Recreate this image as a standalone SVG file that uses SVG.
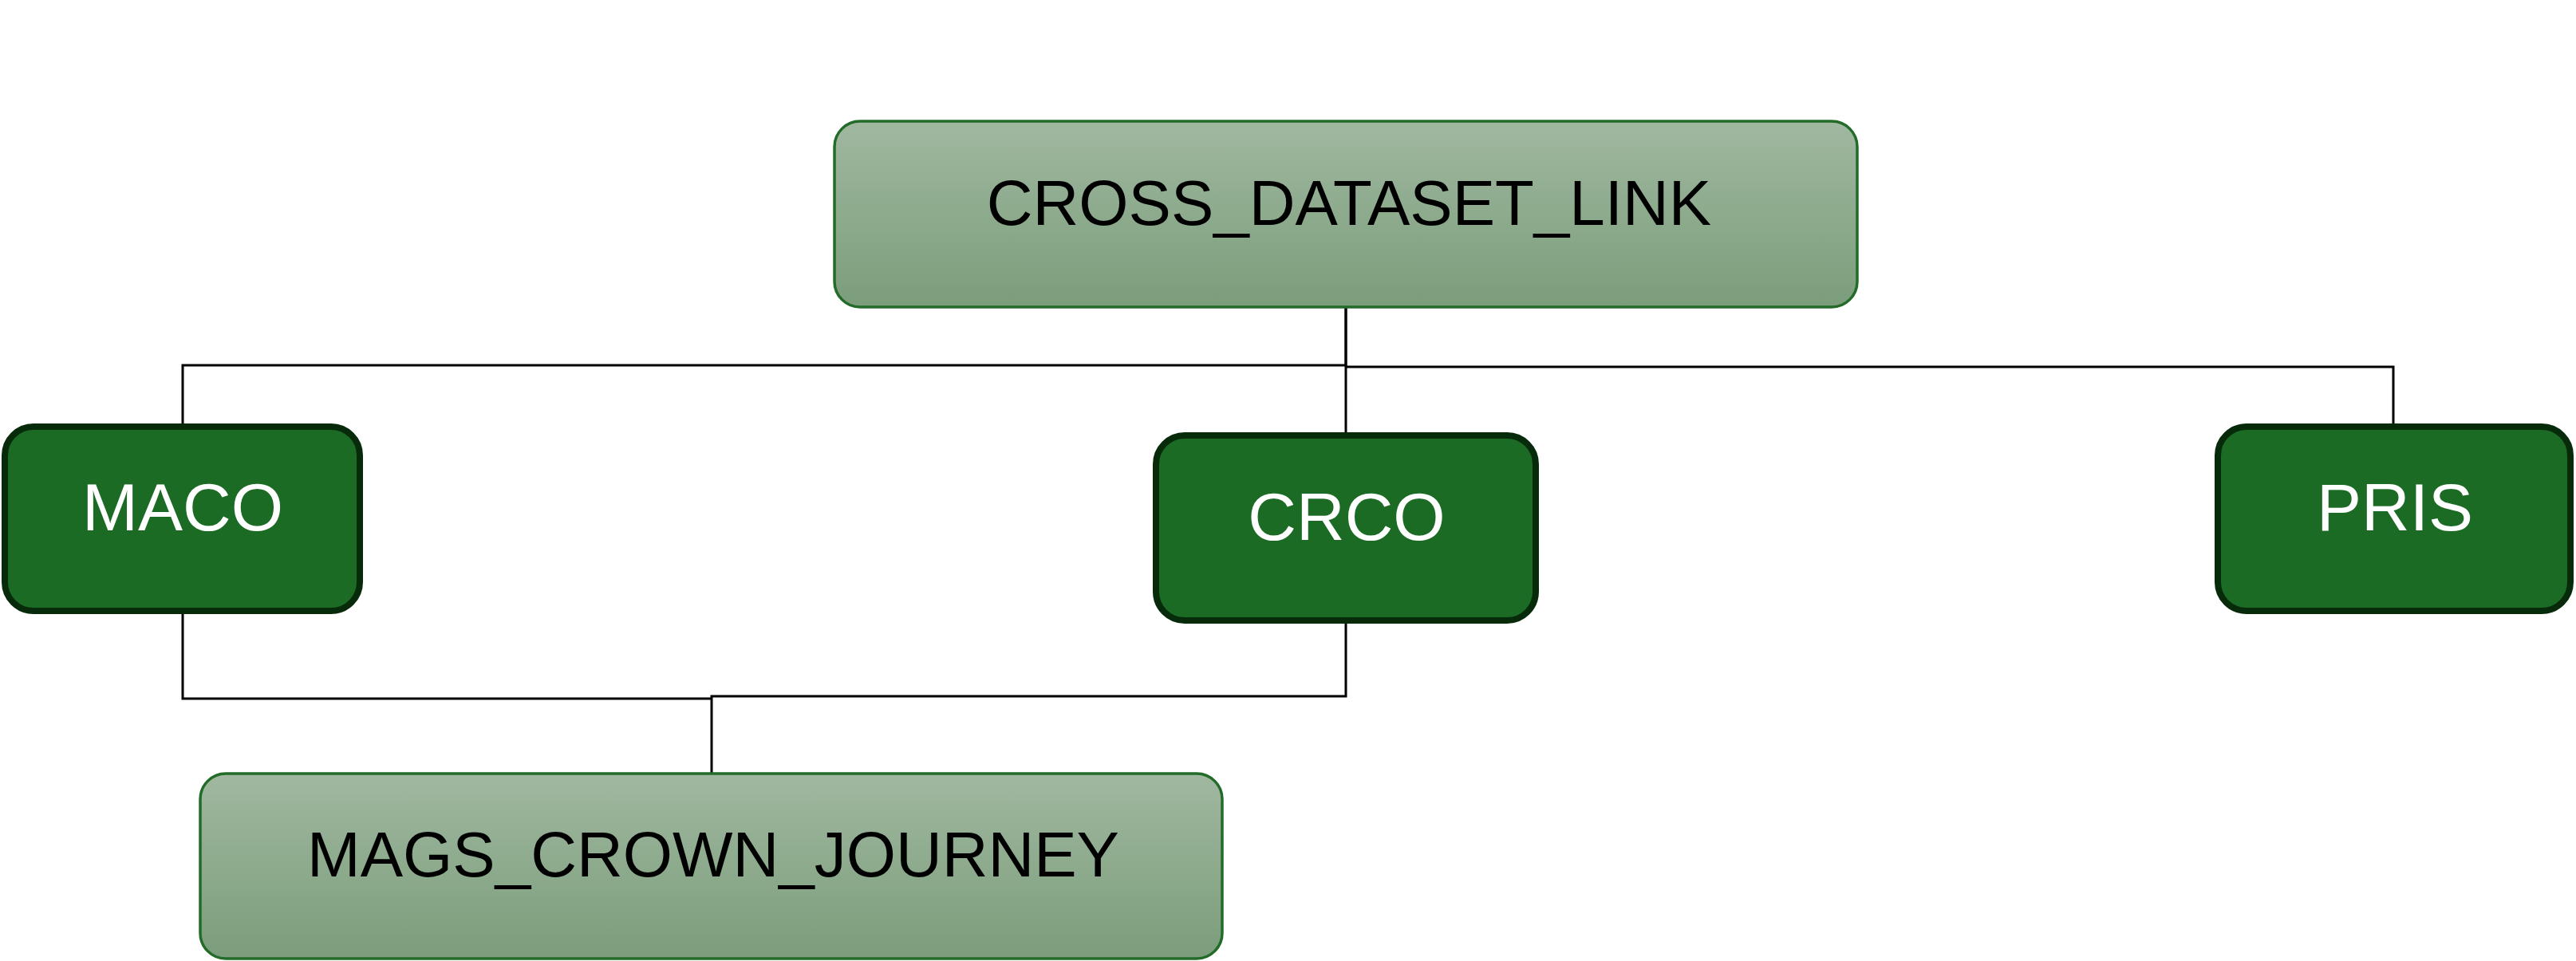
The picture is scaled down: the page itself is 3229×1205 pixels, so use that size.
<svg xmlns="http://www.w3.org/2000/svg" width="3229" height="1205" viewBox="0 0 3229 1205">
<defs>
<linearGradient id="lg" x1="0" y1="0" x2="0" y2="1">
<stop offset="0" stop-color="#a0b8a0"/>
<stop offset="1" stop-color="#7b9d7b"/>
</linearGradient>
<style>
.light{fill:url(#lg);stroke:#226b29;stroke-width:3.5}
.dark{fill:#1b6b25;stroke:#072a0b;stroke-width:8}
.lt{font-family:"Liberation Sans",Arial,sans-serif;font-size:80px;fill:#000;text-anchor:middle}
.dt{font-family:"Liberation Sans",Arial,sans-serif;font-size:84px;fill:#fff;text-anchor:middle}
.edge{fill:none;stroke:#000;stroke-width:3}
</style>
</defs>
<rect width="3229" height="1205" fill="#fff"/>
<g id="connectors">
<path class="edge" d="M1687,385 V458 H229 V531"/>
<path class="edge" d="M1687,385 V542"/>
<path class="edge" d="M1687,460 H3000 V531"/>
<path class="edge" d="M229,770 V876 H892"/>
<path class="edge" d="M1687,782 V873 H892 V985"/>
</g>
<g id="node-cross">
<rect class="light" x="1046" y="152" width="1282" height="233" rx="32"/>
<text class="lt" x="1691" y="282">CROSS_DATASET_LINK</text>
</g>
<g id="node-maco">
<rect class="dark" x="6" y="535" width="445" height="231" rx="36"/>
<text class="dt" x="229" y="665">MACO</text>
</g>
<g id="node-crco">
<rect class="dark" x="1449" y="546" width="476" height="232" rx="36"/>
<text class="dt" x="1688" y="677">CRCO</text>
</g>
<g id="node-pris">
<rect class="dark" x="2780" y="535" width="442" height="231" rx="36"/>
<text class="dt" x="3002" y="665">PRIS</text>
</g>
<g id="node-mags">
<rect class="light" x="251" y="970" width="1281" height="232" rx="32"/>
<text class="lt" x="894" y="1099">MAGS_CROWN_JOURNEY</text>
</g>
</svg>
